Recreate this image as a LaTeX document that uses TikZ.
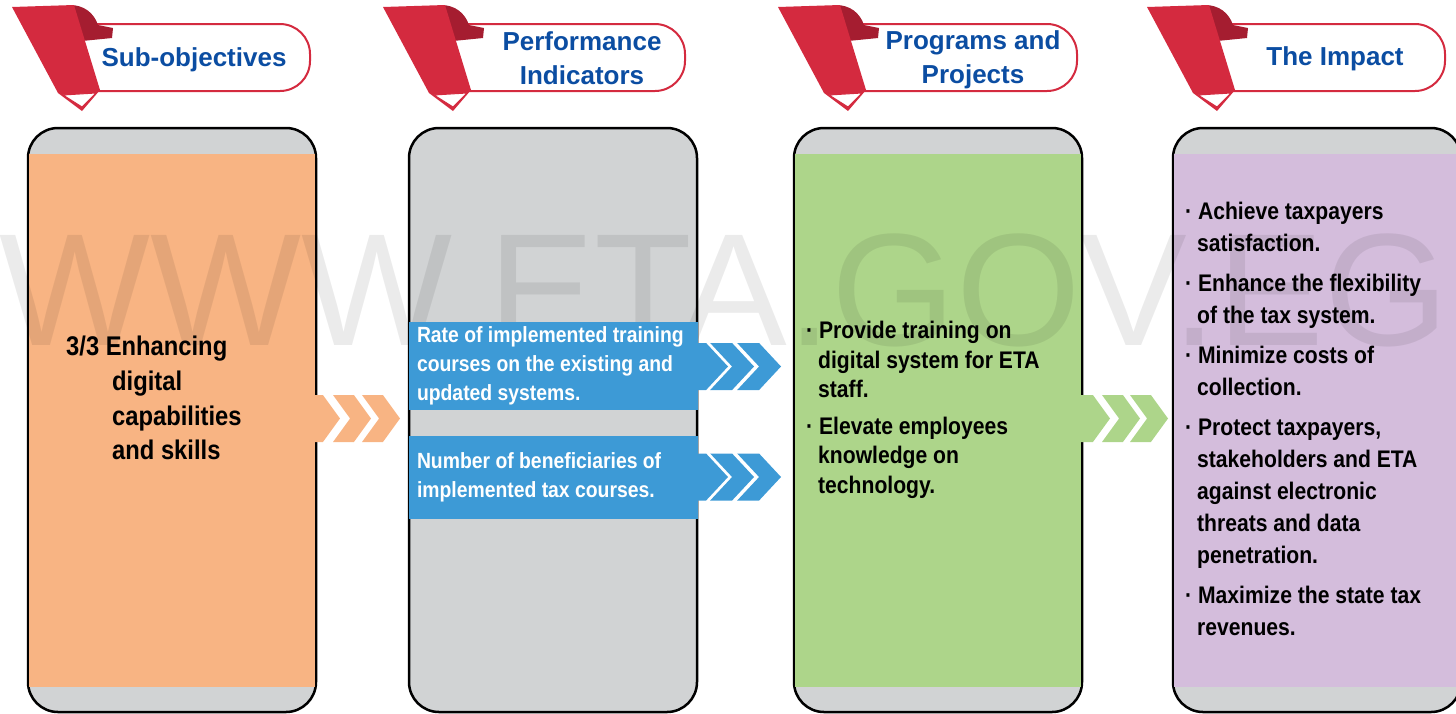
\documentclass[tikz,border=0pt]{standalone}
\usepackage{fontspec}
\setmainfont{Liberation Sans}
\newfontfamily\bodyfont{Liberation Sans}[FakeStretch=0.88]
\usepackage{xcolor}
\usepackage{tikz}
\usetikzlibrary{shapes.symbols, positioning}

\definecolor{subOrange}{HTML}{F8B483}
\definecolor{progGreen}{HTML}{ADD58A}
\definecolor{impactPurple}{HTML}{D4BDDC}
\definecolor{colGray}{HTML}{D1D3D4}
\definecolor{kpiBlue}{HTML}{3D9AD6}
\definecolor{ribbonRed}{HTML}{D42A3F}
\definecolor{ribbonDark}{HTML}{A51D30}
\definecolor{headBlue}{HTML}{0B4DA2}

\begin{document}
\begin{tikzpicture}[
    x=1pt, y=-1pt,
    column/.style={rectangle, draw=black, line width=2.5pt, fill=colGray, rounded corners=30pt, minimum width=288pt, minimum height=584pt, inner sep=0pt, outer sep=0pt},
    band/.style={rectangle, minimum width=285.5pt, minimum height=533pt, inner sep=0pt},
    pill/.style={rectangle, rounded corners=30pt, draw=ribbonRed, line width=2pt, fill=white, minimum height=67pt, inner sep=0pt},
    headtext/.style={font=\fontsize{26}{34}\selectfont\bfseries, text=headBlue, align=center, inner sep=0pt},
    kpi/.style={rectangle, fill=kpiBlue, text=white, minimum width=289pt, text width=272pt, align=flush left, inner sep=0pt, font=\bodyfont\fontsize{22}{29}\selectfont\bfseries},
    bodytext/.style={align=flush left, inner sep=0pt, anchor=west, font=\bodyfont\fontsize{24}{32}\selectfont\bfseries},
    arrowhead/.style={signal, signal to=east, signal pointer angle=108, minimum height=47pt, inner sep=0pt, outer sep=0pt, anchor=east},
    chevron/.style={arrowhead, signal from=west, minimum width=38pt},
    watermark/.style={font=\fontsize{160}{160}\selectfont, text=black, text opacity=0.08, inner sep=0pt},
    ribbon/.pic={
        \fill[ribbonDark] (58,-2) .. controls (72,-2) and (82,6) .. (86,18) -- (101,21) -- (100,31) -- (70,34) -- cycle;
        \fill[ribbonRed] (0,0) -- (62,-2) -- (88,83) -- (70,104) -- (46,86) -- cycle;
        \filldraw[fill=white, draw=ribbonRed, line width=1pt] (51,88) -- (84,86) -- (70,100) -- cycle;
    }
]
    \useasboundingbox (0,0) rectangle (1456,713);
    \clip (0,0) rectangle (1456,713);

    % Columns
    \node[column] (subcol) at (172,420) {};
    \node[column, right=93pt of subcol] (kpicol) {};
    \node[column, right=97pt of kpicol] (progcol) {};
    \node[column, right=91pt of progcol] (impactcol) {};
    \node[band, fill=subOrange] (subband) at (subcol) {};
    \node[band, fill=progGreen] (progband) at (progcol) {};
    \node[band, fill=impactPurple] (impactband) at (impactcol) {};

    % Headers
    \node[pill, minimum width=262pt] (subpill) at (179,57.5) {};
    \node[pill, minimum width=266pt] (kpipill) at (552,57.5) {};
    \node[pill, minimum width=263pt] (progpill) at (945.5,57.5) {};
    \node[pill, minimum width=262pt] (impactpill) at (1314,57.5) {};
    \pic at (12,7) {ribbon};
    \pic at (383,7) {ribbon};
    \pic at (778,7) {ribbon};
    \pic at (1147,7) {ribbon};
    \node[headtext] (subhead) at (194,60) {Sub-objectives};
    \node[headtext] (kpihead) at (582,58) {Performance\\Indicators};
    \node[headtext] (proghead) at (973,60) {Programs and\\Projects};
    \node[headtext] (impacthead) at (1335,59) {The Impact};

    % Watermark
    \node[watermark, anchor=base west] (wm) at (-1,345) {WWW.ETA.GOV.EG};

    % Indicators
    \node[kpi, minimum height=88pt] (kpi1) at (553,366) {Rate of implemented training\\courses on the existing and\\updated systems.};
    \node[kpi, minimum height=83pt] (kpi2) at (553,477.5) {Number of beneficiaries of\\implemented tax courses.};

    % Arrows
    \node[arrowhead, fill=subOrange, minimum width=27pt] (subarr1) at (340,418.5) {};
    \node[chevron, fill=subOrange] (subarr2) at (371,418.5) {};
    \node[chevron, fill=subOrange] (subarr3) at (400,418.5) {};
    \node[arrowhead, fill=kpiBlue, signal pointer angle=94, minimum width=34pt] (kpiarr1) at (728,366.5) {};
    \node[chevron, fill=kpiBlue, signal pointer angle=94, minimum width=40pt] (kpiarr2) at (754,366.5) {};
    \node[chevron, fill=kpiBlue, signal pointer angle=94, minimum width=40pt] (kpiarr3) at (781,366.5) {};
    \node[arrowhead, fill=kpiBlue, signal pointer angle=94, minimum width=34pt] (kpiarr4) at (728,477) {};
    \node[chevron, fill=kpiBlue, signal pointer angle=94, minimum width=40pt] (kpiarr5) at (754,477) {};
    \node[chevron, fill=kpiBlue, signal pointer angle=94, minimum width=40pt] (kpiarr6) at (781,477) {};
    \node[arrowhead, fill=progGreen, minimum width=30pt] (progarr1) at (1110,418.5) {};
    \node[chevron, fill=progGreen] (progarr2) at (1140,418.5) {};
    \node[chevron, fill=progGreen] (progarr3) at (1168,418.5) {};

    % Texts
    \node[bodytext, font=\bodyfont\fontsize{27}{34.7}\selectfont\bfseries] (subtext) at (66,398) {3/3 Enhancing\\\hspace*{46pt}digital\\\hspace*{46pt}capabilities\\\hspace*{46pt}and skills};
    \node[bodytext, font=\bodyfont\fontsize{24}{29.5}\selectfont\bfseries] (progtext) at (806,410) {· Provide training on\\\hspace*{12pt}digital system for ETA\\\hspace*{12pt}staff.\\[7pt]· Elevate employees\\\hspace*{12pt}knowledge on\\\hspace*{12pt}technology.};
    \node[bodytext] (impacttext) at (1185,419) {· Achieve taxpayers\\\hspace*{12pt}satisfaction.\\[8pt]· Enhance the flexibility\\\hspace*{12pt}of the tax system.\\[8pt]· Minimize costs of\\\hspace*{12pt}collection.\\[8pt]· Protect taxpayers,\\\hspace*{12pt}stakeholders and ETA\\\hspace*{12pt}against electronic\\\hspace*{12pt}threats and data\\\hspace*{12pt}penetration.\\[8pt]· Maximize the state tax\\\hspace*{12pt}revenues.};
\end{tikzpicture}
\end{document}
